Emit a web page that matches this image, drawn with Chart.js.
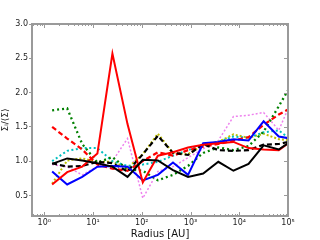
<!DOCTYPE html>
<html>
<head>
<meta charset="utf-8">
<script src="https://cdn.jsdelivr.net/npm/chart.js@4"></script>
<style>
  html, body { margin: 0; padding: 0; background: #fff; }
  #wrap { width: 320px; height: 240px; }
</style>
</head>
<body>
<div id="wrap"><canvas id="sigmaChart" width="320" height="240"></canvas></div>
<script>
// radial bins [AU]
const radius = [1.45, 2.95, 6.0, 12.3, 25, 51, 105, 214, 437, 890, 1820, 3720, 7590, 15500, 31600, 64600, 132000];

const blackSolid  = [0.96, 1.04, 1.01, 0.97, 0.92, 0.77, 1.02, 1.01, 0.87, 0.77, 0.82, 0.99, 0.86, 0.96, 1.23, 1.17, 1.32];
const blackDashed = [0.97, 0.92, 0.93, 0.99, 0.97, 0.85, 1.10, 1.37, 1.12, 1.09, 1.25, 1.16, 1.15, 1.16, 1.24, 1.25, 1.30];
const redSolid    = [0.66, 0.84, 0.92, 1.11, 2.57, 1.54, 0.69, 1.08, 1.13, 1.20, 1.24, 1.26, 1.28, 1.19, 1.17, 1.16, 1.32];
const redDashed   = [1.50, 1.33, 1.17, 0.95, 0.89, 0.86, 1.00, 1.13, 1.08, 1.16, 1.21, 1.25, 1.30, 1.35, 1.53, 1.68, 1.80];
const blueSolid   = [0.85, 0.66, 0.77, 0.92, 0.93, 0.92, 0.72, 0.80, 0.98, 0.80, 1.26, 1.28, 1.32, 1.30, 1.58, 1.36, 1.32];
const greenDot    = [1.74, 1.77, 1.25, 0.98, 1.06, 0.88, 0.86, 0.72, 0.80, 0.93, 1.12, 1.20, 1.16, 1.22, 1.43, 1.80, 2.18];
const cyanDot     = [1.00, 1.15, 1.19, 1.19, 1.00, 0.93, 0.95, 0.99, 1.08, 1.16, 1.24, 1.28, 1.36, 1.34, 1.42, 1.45, 1.28];
const yellowDot   = [0.67, 1.01, 1.04, 0.99, 0.99, 0.90, 1.10, 1.40, 1.12, 1.10, 1.24, 1.28, 1.39, 1.34, 1.40, 1.32, 1.30];
const violetDot   = [0.95, 0.92, 0.80, 0.92, 1.00, 1.33, 0.46, 0.85, 0.92, 1.05, 1.18, 1.30, 1.65, 1.67, 1.71, 1.45, 1.96];

const xTicks = [1, 10, 100, 1000, 10000, 100000];
const xTickLabels = ['10⁰', '10¹', '10²', '10³', '10⁴', '10⁵'];
const yTicks = [0.5, 1.0, 1.5, 2.0, 2.5, 3.0];

const frameColor = '#9a9a9a';

function series(values, color, dash, width) {
    return {
        data: values.map((v, i) => ({ x: radius[i], y: v })),
        borderColor: color,
        borderWidth: width || 2,
        borderDash: dash || [],
        pointRadius: 0,
        tension: 0,
        fill: false,
    };
}

// frame and inward ticks, like the matplotlib axes box
const framePlugin = {
    id: 'frame',
    afterDatasetsDraw(chart) {
        const { ctx, chartArea: a, scales } = chart;
        ctx.save();
        ctx.strokeStyle = frameColor;
        ctx.lineWidth = 1;
        // x ticks, top and bottom
        for (let d = -1; d <= 5; d++) {
            for (let m = 1; m <= 9; m++) {
                const v = m * Math.pow(10, d);
                if (v > 1e5 || v < 0.56) continue;
                const px = Math.round(scales.x.getPixelForValue(v)) + 0.5;
                const len = m === 1 ? 4 : 2;
                ctx.beginPath();
                ctx.moveTo(px, a.top); ctx.lineTo(px, a.top + len);
                ctx.moveTo(px, a.bottom); ctx.lineTo(px, a.bottom - len);
                ctx.stroke();
            }
        }
        // y ticks on right side
        yTicks.forEach(v => {
            const py = Math.round(scales.y.getPixelForValue(v)) + 0.5;
            ctx.beginPath();
            ctx.moveTo(a.right, py); ctx.lineTo(a.right - 4, py);
            ctx.stroke();
        });
        ctx.lineWidth = 2;
        ctx.strokeRect(a.left, a.top, a.right - a.left, a.bottom - a.top);
        ctx.restore();
    }
};

const ctx = document.getElementById('sigmaChart').getContext('2d');
new Chart(ctx, {
    type: 'line',
    data: {
        datasets: [
            series(blackSolid, '#000000'),
            series(redSolid, '#ff0000'),
            series(blueSolid, '#0000ff'),
            series(blackDashed, '#000000', [5, 3], 2.2),
            series(redDashed, '#ff0000', [5, 3], 2.2),
            series(greenDot, '#008000', [2, 3], 2.3),
            series(cyanDot, '#00bfbf', [2, 2.5], 2),
            series(yellowDot, '#bfbf00', [2, 2], 2),
            series(violetDot, '#ee82ee', [2, 2], 1.5),
        ],
    },
    options: {
        responsive: false,
        animation: false,
        events: [],
        layout: { padding: { top: 24, right: 32, left: 0, bottom: 0 } },
        plugins: {
            legend: { display: false },
            tooltip: { enabled: false },
        },
        scales: {
            x: {
                type: 'logarithmic',
                min: 0.56,
                max: 100000,
                afterBuildTicks: scale => { scale.ticks = xTicks.map(v => ({ value: v, major: true })); },
                afterFit: scale => { scale.height = 24; },
                ticks: {
                    autoSkip: false,
                    maxRotation: 0,
                    padding: 2,
                    color: '#222',
                    font: { family: 'DejaVu Sans', size: 8 },
                    callback: (v) => {
                        const i = xTicks.indexOf(v);
                        return i >= 0 ? xTickLabels[i] : '';
                    },
                },
                grid: { display: false, drawTicks: false },
                border: { display: false },
                title: {
                    display: true,
                    text: 'Radius [AU]',
                    color: '#111',
                    padding: 0,
                    font: { family: 'DejaVu Sans', size: 10 },
                },
            },
            y: {
                type: 'linear',
                min: 0.2,
                max: 3.0,
                afterBuildTicks: scale => { scale.ticks = yTicks.map(v => ({ value: v })); },
                afterFit: scale => { scale.width = 32; },
                ticks: {
                    padding: 1,
                    color: '#222',
                    font: { family: 'DejaVu Sans', size: 8 },
                    callback: v => v.toFixed(1),
                },
                grid: {
                    display: true,
                    drawOnChartArea: false,
                    drawTicks: true,
                    tickLength: 3,
                    color: frameColor,
                },
                border: { display: false },
                title: {
                    display: true,
                    text: 'Σᵢ/⟨Σ⟩',
                    color: '#111',
                    padding: 0,
                    font: { family: 'DejaVu Sans', size: 9 },
                },
            },
        },
    },
    plugins: [framePlugin],
});
</script>
</body>
</html>
